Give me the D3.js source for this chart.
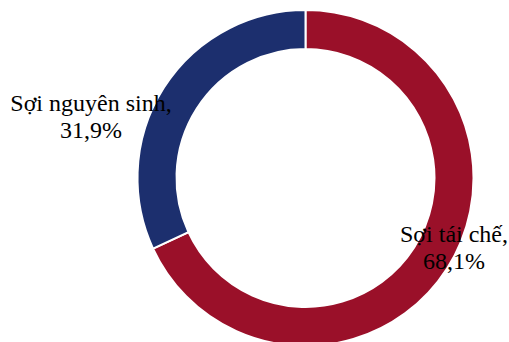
<!DOCTYPE html>
<html><head><meta charset="utf-8">
<script src="https://cdn.jsdelivr.net/npm/d3@7"></script>
<style>html,body{margin:0;padding:0;background:#fff;}</style>
</head><body>
<script>
const categories = ["Sợi tái chế", "Sợi nguyên sinh"];
const values = [68.1, 31.9];
const valueLabels = ["68,1%", "31,9%"];
const colors = ["#9a1029", "#1c2f6e"];

const W = 509, H = 342;
const svg = d3.select("body").append("svg").attr("width", W).attr("height", H);
const cx = 305.5, cy = 178, rOuter = 168, rInner = 129;
const g = svg.append("g").attr("transform", `translate(${cx},${cy})`);
const pie = d3.pie().sort(null).value(d => d)(values);
const arc = d3.arc().innerRadius(rInner).outerRadius(rOuter);
g.selectAll("path").data(pie).join("path")
  .attr("d", arc).attr("fill", (d, i) => colors[i])
  .attr("stroke", "#fff").attr("stroke-width", 2);

const labelPos = [[454, 242], [91, 111]];
categories.forEach((c, i) => {
  const t = svg.append("text")
    .attr("x", labelPos[i][0]).attr("y", labelPos[i][1])
    .attr("text-anchor", "middle")
    .style("font-family", '"Liberation Serif", "Times New Roman", serif')
    .attr("font-size", 24).attr("fill", "#000");
  t.append("tspan").attr("x", labelPos[i][0]).text(c + ",");
  t.append("tspan").attr("x", labelPos[i][0]).attr("dy", 26.5).text(valueLabels[i]);
});
</script>
</body></html>
